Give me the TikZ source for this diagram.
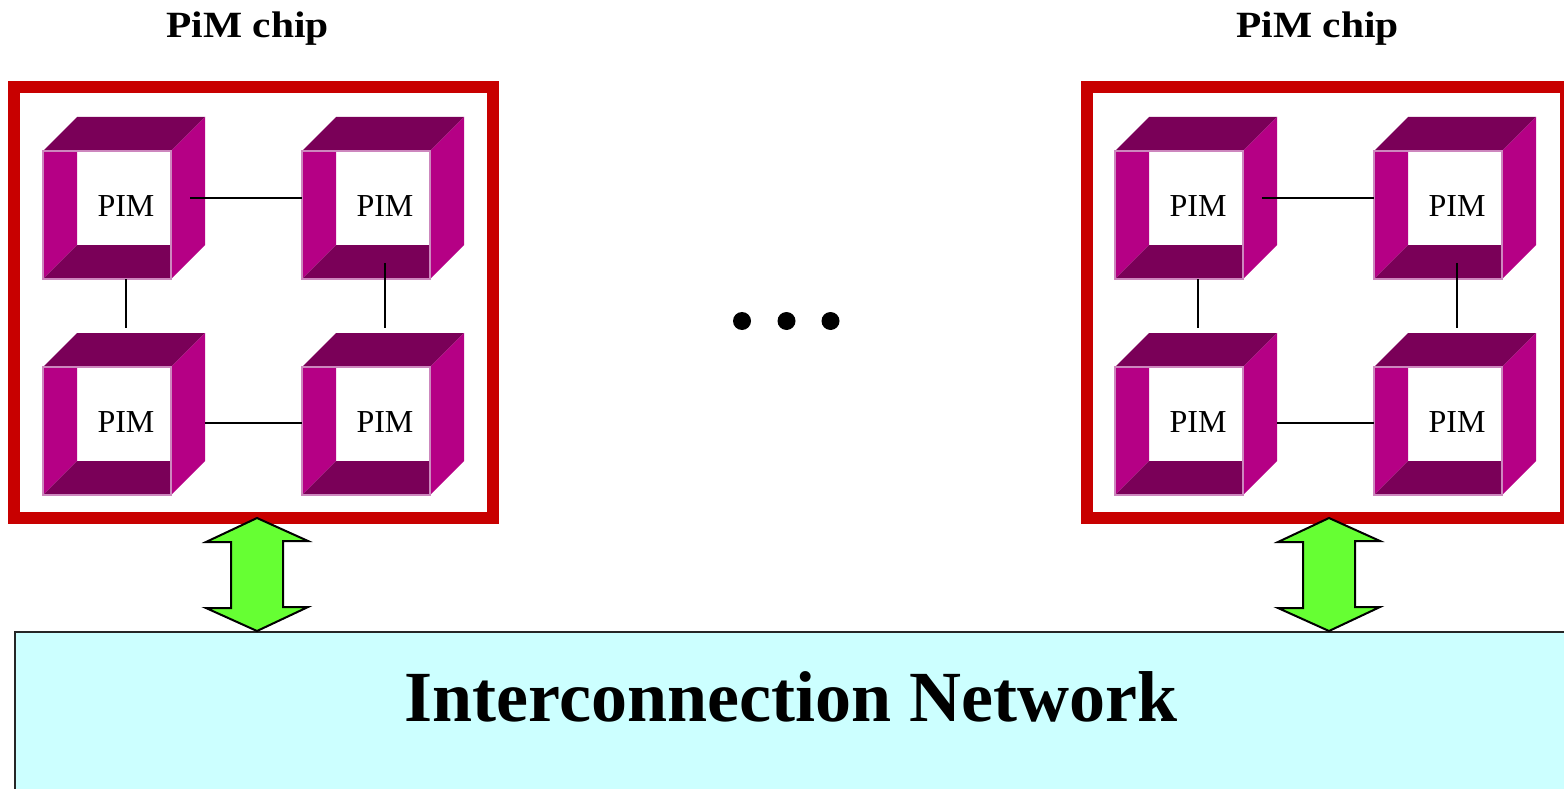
\documentclass[tikz,border=0pt]{standalone}
\usepackage{tikz}
\usepackage{color}
\usepackage{fontspec}
\setmainfont{Liberation Serif}
\definecolor{chipred}{RGB}{200,0,0}
\definecolor{pimside}{RGB}{181,0,133}
\definecolor{pimshade}{RGB}{122,0,88}
\definecolor{pimedge}{RGB}{205,135,190}
\definecolor{netcyan}{RGB}{204,255,255}
\definecolor{arrowgreen}{RGB}{102,255,51}

\begin{document}
\begin{tikzpicture}[x=1pt,y=1pt,yscale=-1,xscale=1,
  chip/.style={draw=chipred,line width=12pt,minimum width=479pt,minimum height=431pt,inner sep=0pt,outer sep=0pt},
  pim/.style={minimum size=94pt,inner sep=0pt,outer sep=0pt,text height=36pt,text depth=0pt,font=\fontsize{32}{36}\selectfont},
  link/.style={line width=1.3pt},
  updown/.style={draw=black,fill=arrowgreen,line width=2pt},
  chiptitle/.style={anchor=base,inner sep=0pt,font=\bfseries\fontsize{37}{40}\selectfont},
  netbox/.style={draw=black!85,fill=netcyan,line width=1.5pt,anchor=north west,minimum width=1570pt,minimum height=200pt,inner sep=0pt},
  nettitle/.style={anchor=base,inner sep=0pt,font=\bfseries\fontsize{72}{80}\selectfont}]
\useasboundingbox (0,0) rectangle (1564,789);
\clip (0,0) rectangle (1564,789);

%Shape: Rectangle (network)
\node[netbox] (net) at (14,631) {};
% Text Node
\node[nettitle] (netlabel) at (791,721) {Interconnection Network};

%Shape: Rectangle (chips)
\node[chip] (chipA) at (253.5,302.5) {};
\node[chip] (chipB) at (1326.5,302.5) {};
% Text Node
\node[chiptitle] (titleA) at (247.5,38) {\scalebox{1.12}[1]{PiM chip}};
% Text Node
\node[chiptitle] (titleB) at (1317.5,38) {\scalebox{1.12}[1]{PiM chip}};

%Shape: Cubes
\foreach \nm/\cx/\cy in {a1/124/198,a2/383/198,a3/124/414,a4/383/414,b1/1196/198,b2/1455/198,b3/1196/414,b4/1455/414}{
  \fill[pimshade] (\cx-81,\cy-47) -- (\cx-47,\cy-81) -- (\cx+81,\cy-81) -- (\cx+47,\cy-47) -- cycle;
  \fill[pimside] (\cx+47,\cy-47) -- (\cx+81,\cy-81) -- (\cx+81,\cy+47) -- (\cx+47,\cy+81) -- cycle;
  \fill[pimside] (\cx-81,\cy-47) -- (\cx-47,\cy-47) -- (\cx-47,\cy+47) -- (\cx-81,\cy+81) -- cycle;
  \fill[pimshade] (\cx-81,\cy+81) -- (\cx-47,\cy+47) -- (\cx+47,\cy+47) -- (\cx+47,\cy+81) -- cycle;
  \draw[pimedge,line width=1.5pt] (\cx-81,\cy-47) rectangle (\cx+47,\cy+81);
  \node[pim] (\nm) at (\cx+2,\cy) {PIM};
}

%Straight Lines
\foreach \p in {a,b}{
  \draw[link] ([xshift=17pt]\p1.east) -- ([xshift=-36pt]\p2.west);
  \draw[link] ([xshift=32pt,yshift=9pt]\p3.east) -- ([xshift=-36pt,yshift=9pt]\p4.west);
  \draw[link] ([yshift=34pt]\p1.south) -- ([yshift=-39pt]\p3.north);
  \draw[link] ([yshift=18pt]\p2.south) -- ([yshift=-39pt]\p4.north);
}

%Shape: Double Arrows
\coordinate (upA) at ([xshift=3.5pt]chipA.south);
\coordinate (upB) at ([xshift=2.5pt]chipB.south);
\foreach \t in {upA,upB}{
  \draw[updown] (\t) -- ++(51,23) -- ++(-25,0) -- ++(0,66) -- ++(25,0) -- (\t |- net.north)
    -- ++(-51,-23) -- ++(25,0) -- ++(0,-66) -- ++(-25,0) -- cycle;
}

%Shape: Dots
\fill (742,321) circle (9pt);
\fill (786.5,321) circle (9pt);
\fill (830.5,321) circle (9pt);

\end{tikzpicture}
\end{document}
